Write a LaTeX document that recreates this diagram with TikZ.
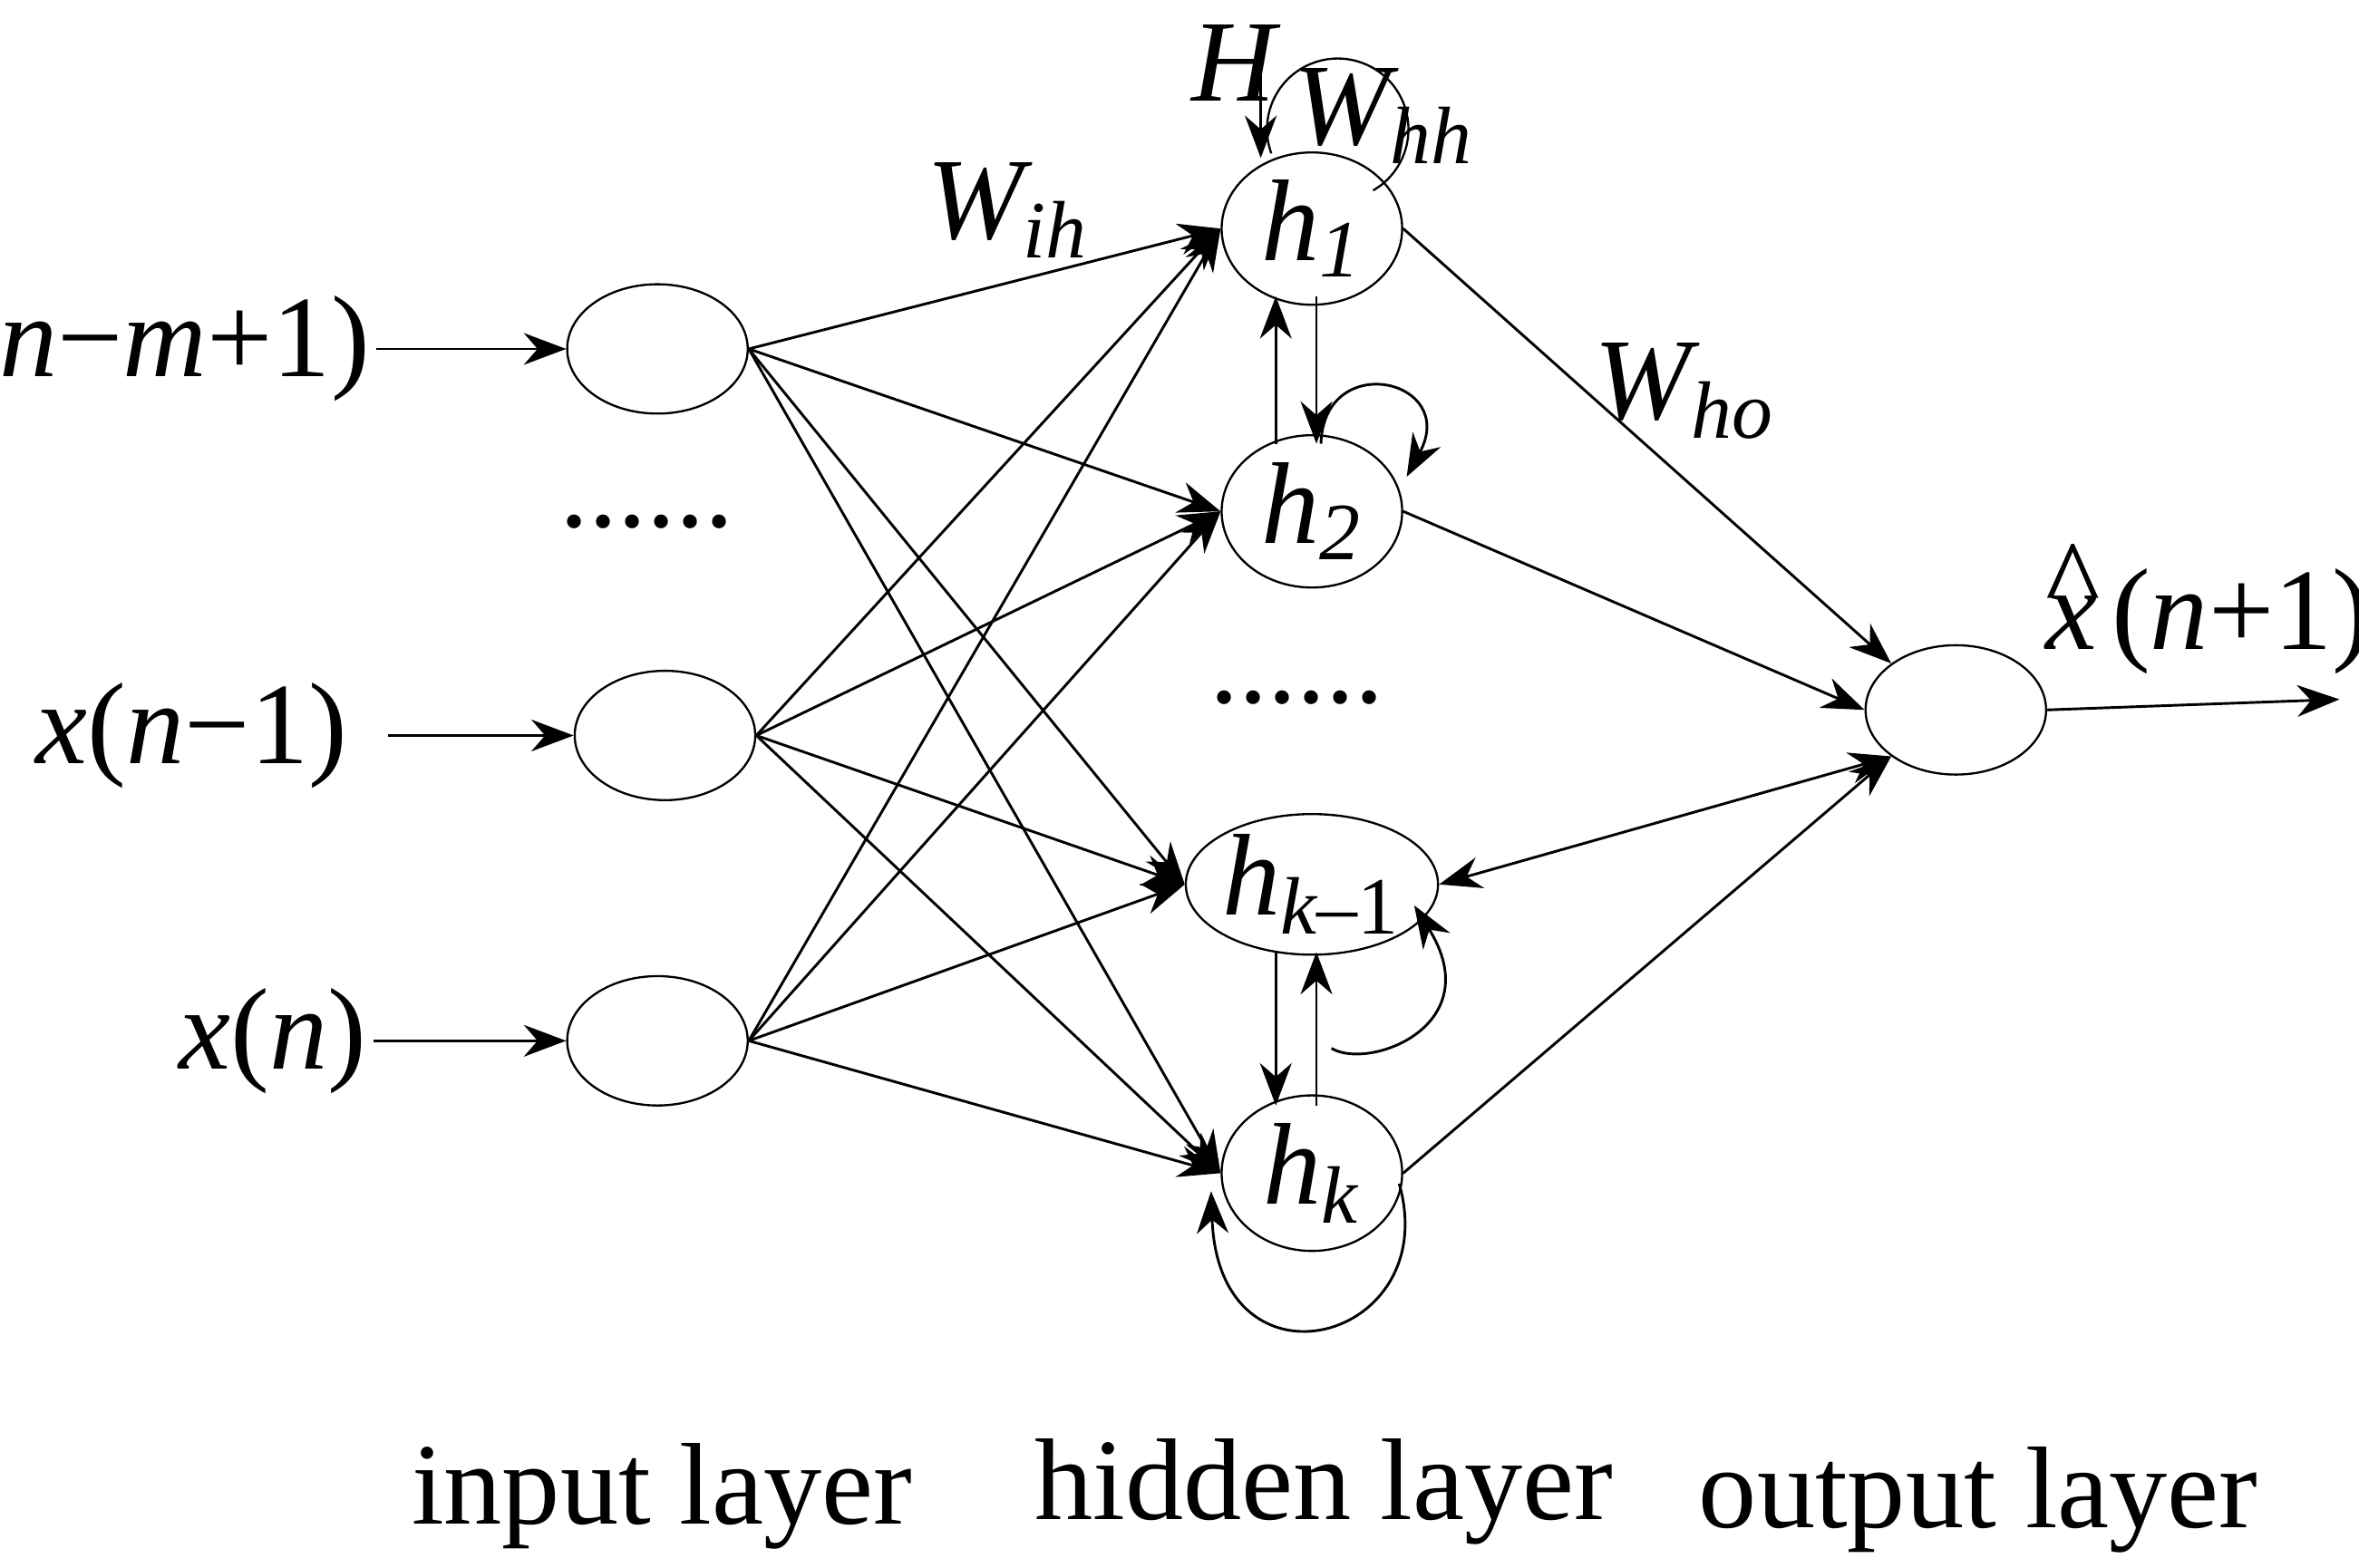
\documentclass[tikz,border=0pt]{standalone}
\usepackage{fontspec}
\setmainfont{Liberation Serif}
\usetikzlibrary{arrows.meta,shapes.geometric}
\newcommand{\sbs}[1]{\textsubscript{\itshape #1}}
\begin{document}
\begin{tikzpicture}[x=1cm,y=1cm,
  neuron/.style={draw, ellipse, minimum width=1.2cm, minimum height=0.86cm, inner sep=0},
  arr/.style={-{Stealth[length=8pt,width=6pt]}, line width=0.5pt},
  lbl/.style={font=\fontsize{22}{26}\selectfont},
  big/.style={font=\fontsize{22}{26}\selectfont\itshape, inner sep=1pt}]
\useasboundingbox (0,0) rectangle (15.68,10.42);
% input layer
\node[neuron] (i1) at (4.37,8.10) {};
\node[neuron] (i2) at (4.42,5.53) {};
\node[neuron] (i3) at (4.37,3.50) {};
% hidden layer
\node[neuron, minimum height=0.9cm, big] (h1) at (8.72,8.90) {h\sbs{1}};
\node[neuron, minimum height=0.9cm, big] (h2) at (8.72,7.02) {h\sbs{2}};
\node[neuron, minimum height=0.9cm, big, inner sep=0] (h3) at (8.72,4.54) {h\sbs{k\upshape–1}};
\node[neuron, minimum height=0.9cm, big] (h4) at (8.72,2.62) {h\sbs{k}};
% output
\node[neuron] (o) at (13.00,5.70) {};
% input labels
\node[big, anchor=east] (x1) at (2.50,8.10) {x\upshape(\itshape n\upshape−\itshape m\upshape+1)};
\node[big, anchor=east] (x2) at (2.35,5.53) {x\upshape(\itshape n\upshape−1)};
\node[big, anchor=east] (x3) at (2.48,3.50) {x\upshape(\itshape n\upshape)};
\draw[arr] (x1.east) -- (i1.west);
\draw[arr] (2.58,5.53) coordinate (x2e) -- (i2.west);
\draw[arr] (x3.east) -- (i3.west);
% dots
\node[lbl] (d1) at (4.30,6.95) {......};
\node[lbl] (d2) at (8.62,5.78) {......};
% input to hidden
\foreach \i in {i1,i2,i3}{
  \foreach \h in {h1,h2,h3,h4}{
    \draw[arr] (\i.east) -- (\h.west);
  }
}
% hidden to output
\draw[arr] (h1.east) -- (o.north west);
\draw[arr] (h2.east) -- (o.west);
\draw[arr, {Stealth[length=8pt,width=6pt]}-{Stealth[length=8pt,width=6pt]}] (h3.east) -- (o.south west);
\draw[arr] (h4.east) -- (o.south west);
% output arrow
\coordinate (oe) at (15.55,5.77);
\draw[arr] (o.east) -- (oe);
\node[big] (xh) at (14.68,6.37) {x\kern-0.45em\raisebox{0.25em}{\upshape\^{}}\kern0.1em\upshape(\itshape n\upshape+1)};
% vertical links
\draw[arr] (8.48,7.47) -- (8.48,8.45);
\draw[arr] (8.75,8.45) -- (8.75,7.47);
\draw[arr] (8.48,4.09) -- (8.48,3.07);
\draw[arr] (8.75,3.07) -- (8.75,4.09);
% self loops
\draw (8.45,9.40) arc (200:-60:0.47);
\coordinate (hin) at (8.38,9.95);
\draw[arr] (hin) -- (8.38,9.37);
\draw[arr] (8.78,7.47) .. controls (8.80,8.10) and (9.70,7.90) .. (9.35,7.25);
\draw[arr] (8.85,3.45) .. controls (9.10,3.30) and (9.90,3.60) .. (9.40,4.40);
\draw[arr] (9.30,2.55) .. controls (9.60,1.50) and (8.10,1.10) .. (8.05,2.50);
% weight labels
\node[big] (H) at (8.20,10.00) {H};
\node[big] (whh) at (9.20,9.65) {W\sbs{hh}};
\node[big] (wih) at (6.70,9.02) {W\sbs{ih}};
\node[big] (who) at (11.20,7.82) {W\sbs{ho}};
% layer labels
\node[lbl] (l1) at (4.40,0.47) {input layer};
\node[lbl] (l2) at (8.80,0.50) {hidden layer};
\node[lbl] (l3) at (13.15,0.45) {output layer};
\end{tikzpicture}
\end{document}
